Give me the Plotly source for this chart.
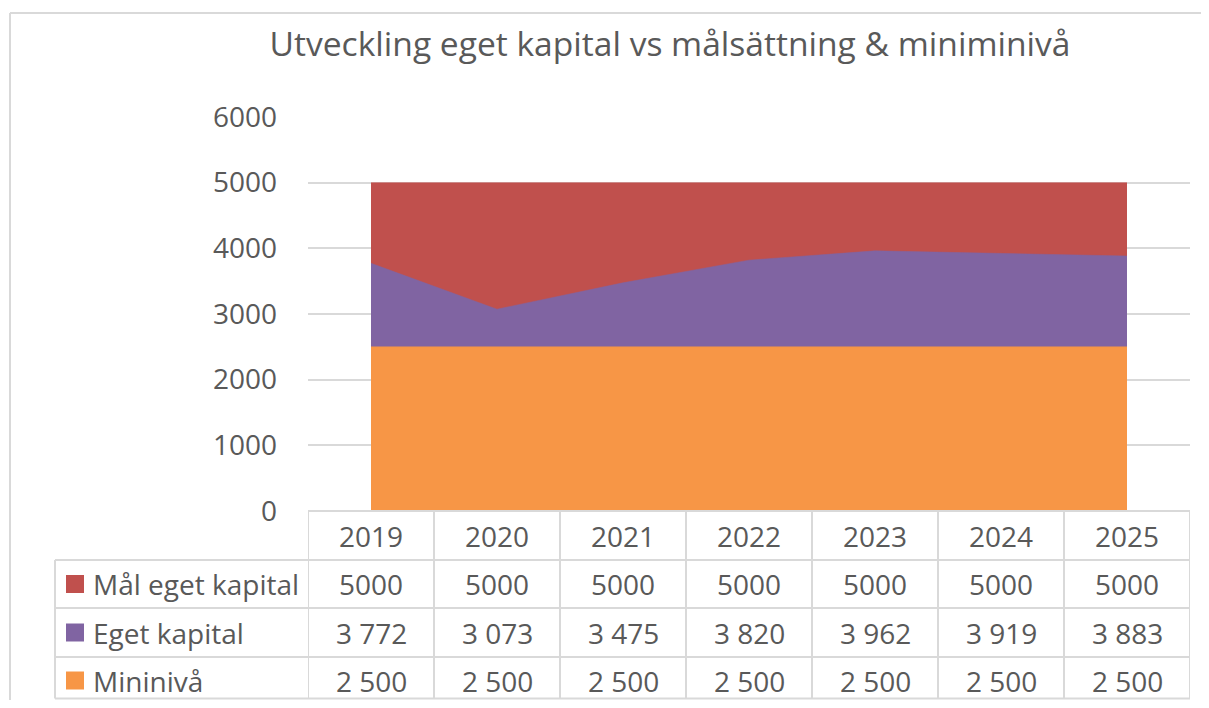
import plotly.graph_objects as go

years = ["2019", "2020", "2021", "2022", "2023", "2024", "2025"]
mal_eget_kapital = [5000, 5000, 5000, 5000, 5000, 5000, 5000]
eget_kapital = [3772, 3073, 3475, 3820, 3962, 3919, 3883]
mininiva = [2500, 2500, 2500, 2500, 2500, 2500, 2500]
y_ticks = [0, 1000, 2000, 3000, 4000, 5000, 6000]

series = [
    ("Mål eget kapital", mal_eget_kapital, "#C0504D"),
    ("Eget kapital", eget_kapital, "#8064A2"),
    ("Mininivå", mininiva, "#F79646"),
]

FONT = "Open Sans"
TXT = "#595959"
GRID = "#D9D9D9"

OFF = 8  # page body margin
W, H = 1209 - 2 * OFF, 708 - 2 * OFF
# plot area in reference pixels: x 308..1190, y 117..511
PX0, PX1, PY0, PY1 = 308, 1190, 117, 511
L, T = PX0 - OFF, PY0 - OFF
R = W - (PX1 - OFF)
B = H - (PY1 - OFF)
pw, ph = PX1 - PX0, PY1 - PY0


def px_x(x):
    return (x - PX0) / pw


def px_y(y):
    return (PY1 - y) / ph


fig = go.Figure()
for name, vals, col in series:
    fig.add_trace(go.Scatter(x=years, y=vals, name=name, mode="lines",
                             fill="tozeroy", fillcolor=col,
                             line=dict(color=col, width=0.5),
                             showlegend=False))

shapes = []
annotations = []

# outer chart border (left and top)
shapes.append(dict(type="line", xref="paper", yref="paper", x0=px_x(10), x1=px_x(10),
                   y0=px_y(13), y1=px_y(760), line=dict(color=GRID, width=2)))
shapes.append(dict(type="line", xref="paper", yref="paper", x0=px_x(10), x1=px_x(1260),
                   y0=px_y(13), y1=px_y(13), line=dict(color=GRID, width=2)))

# data table
row_lines = [511, 560, 608, 657, 698.5]
n = len(years)
for i in range(n + 1):
    shapes.append(dict(type="line", xref="x", yref="paper", x0=i - 0.5, x1=i - 0.5,
                       y0=px_y(511), y1=px_y(698.5), line=dict(color=GRID, width=2)))
shapes.append(dict(type="line", xref="paper", yref="paper", x0=px_x(55), x1=px_x(55),
                   y0=px_y(560), y1=px_y(698.5), line=dict(color=GRID, width=2)))
for k, yy in enumerate(row_lines):
    x0 = px_x(308) if k == 0 else px_x(55)
    shapes.append(dict(type="line", xref="paper", yref="paper", x0=x0, x1=1,
                       y0=px_y(yy), y1=px_y(yy), line=dict(color=GRID, width=2)))

cell_font = dict(family=FONT, size=28, color=TXT)

hc = (511 + 560) / 2
for i, yv in enumerate(years):
    annotations.append(dict(x=i, y=px_y(hc), xref="x", yref="paper", text=yv,
                            xanchor="center", yanchor="middle",
                            showarrow=False, font=cell_font))

row_centers = [(560 + 608) / 2, (608 + 657) / 2, (657 + 704) / 2]
for (name, vals, col), rc in zip(series, row_centers):
    shapes.append(dict(type="rect", xref="paper", yref="paper", x0=px_x(66), x1=px_x(84),
                       y0=px_y(rc + 9), y1=px_y(rc - 9), fillcolor=col, line=dict(width=0)))
    annotations.append(dict(x=px_x(91), y=px_y(rc), xref="paper", yref="paper", text=name,
                            xanchor="left", yanchor="middle", showarrow=False, font=cell_font))
    for i, v in enumerate(vals):
        txt = str(v) if name == "Mål eget kapital" else f"{v:,}".replace(",", " ")
        annotations.append(dict(x=i, y=px_y(rc), xref="x", yref="paper", text=txt,
                                xanchor="center", yanchor="middle",
                                showarrow=False, font=cell_font))

fig.update_layout(
    width=W, height=H,
    margin=dict(l=L, r=R, t=T, b=B, pad=0),
    paper_bgcolor="white", plot_bgcolor="white",
    title=dict(text="Utveckling eget kapital vs målsättning & miniminivå",
               xref="container", yref="container",
               x=(670 - OFF) / W, xanchor="center",
               y=1 - (44 - OFF) / H, yanchor="middle",
               font=dict(family=FONT, size=33.6, color=TXT)),
    xaxis=dict(type="category", range=[-0.5, 6.5], showticklabels=False, showgrid=False,
               zeroline=False, showline=False, ticks=""),
    yaxis=dict(range=[0, 6000], tickvals=y_ticks, showgrid=True, gridcolor=GRID, gridwidth=2,
               zeroline=False, showline=False, ticks="", ticklabelstandoff=30,
               tickfont=dict(family=FONT, size=28, color=TXT)),
    shapes=shapes,
    annotations=annotations,
)

fig.write_html("out.html")
